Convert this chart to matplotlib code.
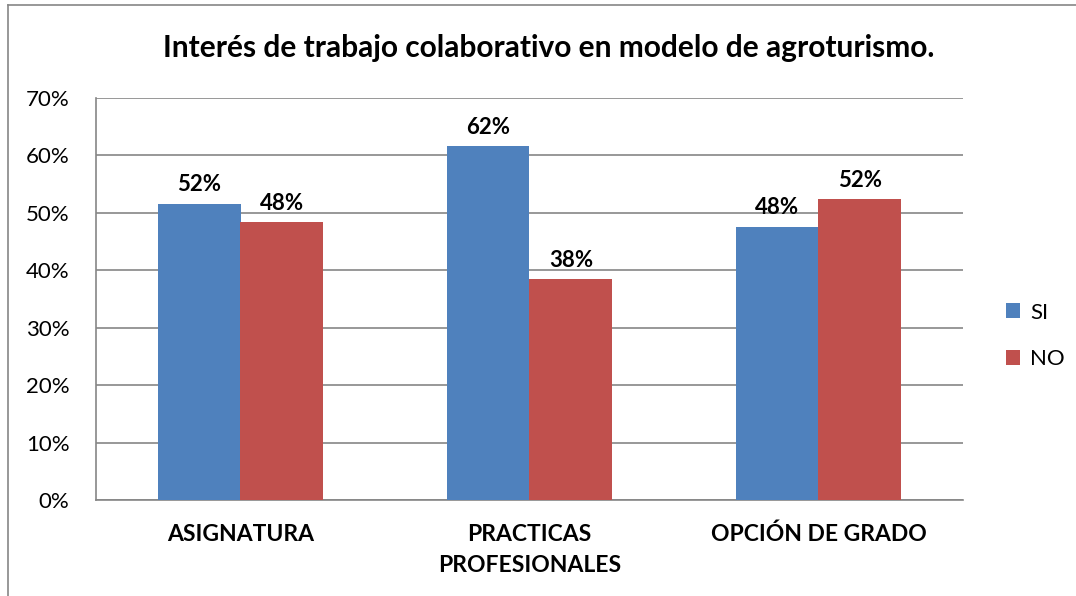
import matplotlib.pyplot as plt
from matplotlib.lines import Line2D

categories = ["ASIGNATURA", "PRACTICAS\nPROFESIONALES", "OPCIÓN DE GRADO"]
si_values = [51.6, 61.6, 47.6]
no_values = [48.4, 38.4, 52.4]
series_names = ["SI", "NO"]
y_ticks = [0, 10, 20, 30, 40, 50, 60, 70]

BLUE = "#4F81BD"
RED = "#C0504D"
GRID = "#868686"

plt.rcParams["font.family"] = ["Lato", "DejaVu Sans"]

fig = plt.figure(figsize=(10.76, 5.96), dpi=100)
ax = fig.add_axes([96 / 1076, 96 / 596, (963 - 96) / 1076, (500 - 98) / 596])

# outer chart frame (only top and left edges are visible in the crop)
fig.add_artist(Line2D([8 / 1076, 1.0], [1 - 5 / 596] * 2, transform=fig.transFigure,
                      color=GRID, lw=1.2))
fig.add_artist(Line2D([8 / 1076] * 2, [0.0, 1 - 5 / 596], transform=fig.transFigure,
                      color=GRID, lw=1.2))

x = list(range(len(categories)))
w = 0.286
bars_si = ax.bar([i - w / 2 for i in x], si_values, w, color=BLUE, label=series_names[0], zorder=3)
bars_no = ax.bar([i + w / 2 for i in x], no_values, w, color=RED, label=series_names[1], zorder=3)

for bars, vals in ((bars_si, si_values), (bars_no, no_values)):
    for b, v in zip(bars, vals):
        ax.annotate(f"{round(v):d}%", (b.get_x() + b.get_width() / 2, v),
                    xytext=(0, 6), textcoords="offset points", ha="center", va="bottom",
                    fontsize=16, fontweight="bold")

ax.set_xlim(-0.5, 2.5)
ax.set_ylim(0, 70)
ax.set_yticks(y_ticks)
ax.set_yticklabels([f"{t}%" for t in y_ticks], fontsize=16)
ax.set_xticks(x)
ax.set_xticklabels(categories, fontsize=16.5, fontweight="bold", linespacing=1.6)
ax.tick_params(axis="x", length=0, pad=17)
ax.tick_params(axis="y", length=0, pad=19)
ax.yaxis.grid(True, color=GRID, lw=1.2, zorder=0)
for side in ("top", "right"):
    ax.spines[side].set_visible(False)
for side in ("left", "bottom"):
    ax.spines[side].set_color(GRID)
    ax.spines[side].set_linewidth(1.2)

fig.text(549 / 1076, 1 - 48 / 596, "Interés de trabajo colaborativo en modelo de agroturismo.",
         ha="center", va="center", fontsize=21.5, fontweight="bold")

fig.legend(handles=[bars_si, bars_no], labels=series_names, loc="center left",
           bbox_to_anchor=(986 / 1076, 1 - 336 / 596), frameon=False, fontsize=16,
           handlelength=0.65, handleheight=0.65, handletextpad=0.45, labelspacing=1.2)

fig.savefig("out.png", dpi=100)
